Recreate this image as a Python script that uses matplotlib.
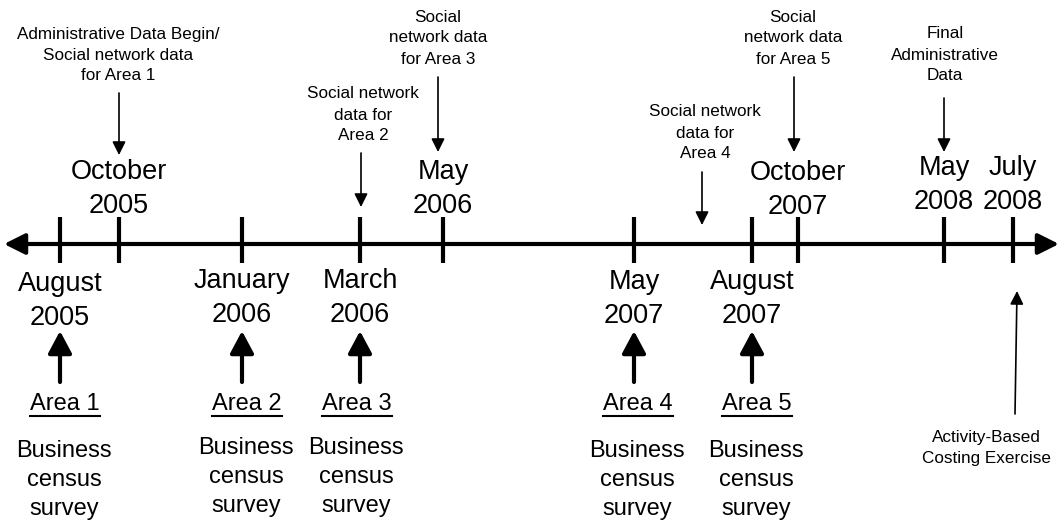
import matplotlib.pyplot as plt

plt.rcParams['font.family'] = ['Liberation Sans', 'DejaVu Sans']

# puntos de la linea de tiempo (posicion horizontal en el dibujo)
arriba_x = [119, 443, 798, 944, 1013]
arriba_y = [189, 189, 190, 185, 185]
arriba_txt = ["October\n2005", "May\n2006", "October\n2007", "May\n2008", "July\n2008"]

abajo_x = [60, 242, 360, 634, 752]
abajo_y = [301, 298, 298, 299, 299]
abajo_txt = ["August\n2005", "January\n2006", "March\n2006", "May\n2007", "August\n2007"]

areas = ["Area 1", "Area 2", "Area 3", "Area 4", "Area 5"]
areas_x = [65, 247, 357, 638, 757]
negocio_y = [480, 477, 477, 480, 480]

# notas de arriba: texto, x texto, y texto, x flecha, y inicio, y punta
notas_txt = ["Administrative Data Begin/\nSocial network data\nfor Area 1",
             "Social network\ndata for\nArea 2",
             "Social\nnetwork data\nfor Area 3",
             "Social network\ndata for\nArea 4",
             "Social\nnetwork data\nfor Area 5",
             "Final\nAdministrative\nData"]
notas_x = [118, 363, 438, 705, 793, 945]
notas_y = [55, 115, 38, 133, 38, 55]
flecha_x = [119, 361, 438, 702, 794, 944]
flecha_ini = [93, 153, 77, 172, 77, 98]
flecha_fin = [155, 207, 152, 225, 152, 152]

fig = plt.figure(figsize=(10.62, 5.21), dpi=100)
ax = fig.add_axes([0, 0, 1, 1])
ax.set_xlim(0, 1062)
ax.set_ylim(521, 0)
ax.axis('off')

# eje principal con flechas a los dos lados
ax.annotate("", xy=(4, 244), xytext=(1059, 244),
            arrowprops=dict(arrowstyle='<|-|>,head_length=0.7,head_width=0.35',
                            lw=3, color='black', shrinkA=0, shrinkB=0,
                            mutation_scale=18))

todos_x = arriba_x + abajo_x
ax.vlines(todos_x, 217, 263, color='black', lw=3)

for n in range(len(arriba_x)):
    ax.text(arriba_x[n], arriba_y[n], arriba_txt[n], fontsize=19.5,
            ha='center', va='center', linespacing=1.38)

for n in range(len(abajo_x)):
    ax.text(abajo_x[n], abajo_y[n], abajo_txt[n], fontsize=19.5,
            ha='center', va='center', linespacing=1.38)
    # flecha gruesa hacia arriba
    ax.annotate("", xy=(abajo_x[n], 331), xytext=(abajo_x[n], 382),
                arrowprops=dict(arrowstyle='-|>,head_length=0.75,head_width=0.4',
                                lw=3, color='black', shrinkA=0, shrinkB=0,
                                mutation_scale=18))

area_textos = []
for n in range(len(areas)):
    t = ax.text(areas_x[n], 404, areas[n], fontsize=17, ha='center', va='center')
    area_textos.append(t)
    ax.text(areas_x[n] - 1, negocio_y[n], "Business\ncensus\nsurvey", fontsize=17,
            ha='center', va='center', linespacing=1.42)

for n in range(len(notas_txt)):
    ax.text(notas_x[n], notas_y[n], notas_txt[n], fontsize=12.3,
            ha='center', va='center', linespacing=1.5)
    ax.annotate("", xy=(flecha_x[n], flecha_fin[n]), xytext=(flecha_x[n], flecha_ini[n]),
                arrowprops=dict(arrowstyle='-|>,head_length=0.5,head_width=0.25',
                                lw=1.2, color='black', shrinkA=0, shrinkB=0,
                                mutation_scale=16))

ax.text(986, 448, "Activity-Based\nCosting Exercise", fontsize=12.3,
        ha='center', va='center', linespacing=1.5)
ax.annotate("", xy=(1017, 291), xytext=(1015, 414),
            arrowprops=dict(arrowstyle='-|>,head_length=0.5,head_width=0.25',
                            lw=1.2, color='black', shrinkA=0, shrinkB=0,
                            mutation_scale=16))

# subrayado de las areas
fig.canvas.draw()
r = fig.canvas.get_renderer()
inv = ax.transData.inverted()
for t in area_textos:
    bb = t.get_window_extent(renderer=r)
    (x0, y0), (x1, y1) = inv.transform([(bb.x0, bb.y0), (bb.x1, bb.y1)])
    ax.plot([x0, x1], [415.5, 415.5], color='black', lw=1.5)

plt.savefig("out.png", dpi=100)
